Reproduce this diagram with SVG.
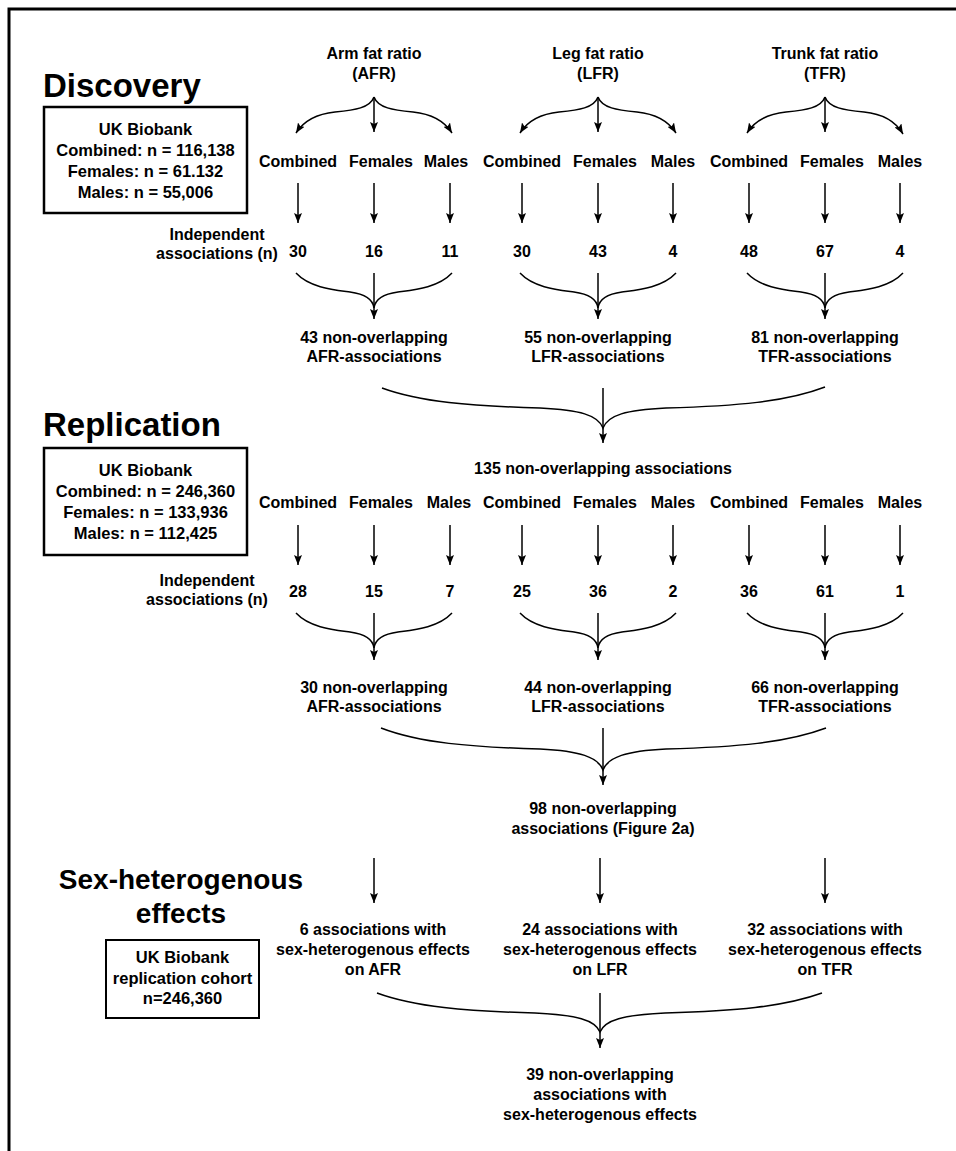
<svg xmlns="http://www.w3.org/2000/svg" width="956" height="1151" viewBox="0 0 956 1151">
<defs>
<marker id="ah" viewBox="0 0 10 8" refX="10" refY="4" markerWidth="10" markerHeight="8" markerUnits="userSpaceOnUse" orient="auto">
<path d="M0,0 L10,4 L0,8 L2,4 z" fill="#000"/>
</marker>
<style>
text{font-family:"Liberation Sans",Arial,sans-serif;font-weight:bold;fill:#000;text-anchor:middle}
.t{font-size:16px}
.b{font-size:16.5px}
.h{font-size:33px;text-anchor:start}
.h2{font-size:28px}
.box{fill:none;stroke:#000;stroke-width:2.5}
.c path{fill:none;stroke:#000;stroke-width:1.5}
.a{marker-end:url(#ah)}
</style>
</defs>
<rect width="956" height="1151" fill="#fff"/>
<path d="M9,1151 V9 H956" fill="none" stroke="#000" stroke-width="3"/>

<g id="discovery-heading"><text class="h" x="43" y="97">Discovery</text></g>
<g id="discovery-box">
<rect class="box" x="44" y="107" width="203" height="106"/>
<text class="b" x="145.5" y="135">UK Biobank</text>
<text class="b" x="145.5" y="156">Combined: n = 116,138</text>
<text class="b" x="145.5" y="177">Females: n = 61.132</text>
<text class="b" x="145.5" y="198">Males: n = 55,006</text>
</g>

<g id="titles">
<text class="t" x="374" y="59">Arm fat ratio</text><text class="t" x="374" y="79">(AFR)</text>
<text class="t" x="598" y="59">Leg fat ratio</text><text class="t" x="598" y="79">(LFR)</text>
<text class="t" x="825" y="59">Trunk fat ratio</text><text class="t" x="825" y="79">(TFR)</text>
</g>

<g id="discovery-groups">
<text class="t" x="298" y="167">Combined</text><text class="t" x="381" y="167">Females</text><text class="t" x="446" y="167">Males</text>
<text class="t" x="522" y="167">Combined</text><text class="t" x="605" y="167">Females</text><text class="t" x="673" y="167">Males</text>
<text class="t" x="749" y="167">Combined</text><text class="t" x="832" y="167">Females</text><text class="t" x="900" y="167">Males</text>
</g>

<g id="discovery-indep">
<text class="t" x="217" y="240">Independent</text>
<text class="t" x="217" y="259">associations (n)</text>
</g>
<g id="discovery-numbers">
<text class="t" x="298" y="257">30</text><text class="t" x="374" y="257">16</text><text class="t" x="450" y="257">11</text>
<text class="t" x="522" y="257">30</text><text class="t" x="598" y="257">43</text><text class="t" x="673" y="257">4</text>
<text class="t" x="749" y="257">48</text><text class="t" x="825" y="257">67</text><text class="t" x="900" y="257">4</text>
</g>

<g id="discovery-results">
<text class="t" x="374" y="343">43 non-overlapping</text><text class="t" x="374" y="362">AFR-associations</text>
<text class="t" x="598" y="343">55 non-overlapping</text><text class="t" x="598" y="362">LFR-associations</text>
<text class="t" x="825" y="343">81 non-overlapping</text><text class="t" x="825" y="362">TFR-associations</text>
</g>

<g id="replication-heading"><text class="h" x="43" y="436">Replication</text></g>
<g id="replication-box">
<rect class="box" x="44" y="448" width="203" height="107"/>
<text class="b" x="145.5" y="476">UK Biobank</text>
<text class="b" x="145.5" y="497">Combined: n = 246,360</text>
<text class="b" x="145.5" y="518">Females: n = 133,936</text>
<text class="b" x="145.5" y="539">Males: n = 112,425</text>
</g>

<g id="replication-total"><text class="t" x="603" y="474">135 non-overlapping associations</text></g>

<g id="replication-groups">
<text class="t" x="298" y="508">Combined</text><text class="t" x="381" y="508">Females</text><text class="t" x="449" y="508">Males</text>
<text class="t" x="522" y="508">Combined</text><text class="t" x="605" y="508">Females</text><text class="t" x="673" y="508">Males</text>
<text class="t" x="749" y="508">Combined</text><text class="t" x="832" y="508">Females</text><text class="t" x="900" y="508">Males</text>
</g>

<g id="replication-indep">
<text class="t" x="207" y="586">Independent</text>
<text class="t" x="207" y="605">associations (n)</text>
</g>
<g id="replication-numbers">
<text class="t" x="298" y="597">28</text><text class="t" x="374" y="597">15</text><text class="t" x="450" y="597">7</text>
<text class="t" x="522" y="597">25</text><text class="t" x="598" y="597">36</text><text class="t" x="673" y="597">2</text>
<text class="t" x="749" y="597">36</text><text class="t" x="825" y="597">61</text><text class="t" x="900" y="597">1</text>
</g>

<g id="replication-results">
<text class="t" x="374" y="693">30 non-overlapping</text><text class="t" x="374" y="712">AFR-associations</text>
<text class="t" x="598" y="693">44 non-overlapping</text><text class="t" x="598" y="712">LFR-associations</text>
<text class="t" x="825" y="693">66 non-overlapping</text><text class="t" x="825" y="712">TFR-associations</text>
</g>

<g id="replication-total2">
<text class="t" x="603" y="814">98 non-overlapping</text>
<text class="t" x="603" y="834">associations (Figure 2a)</text>
</g>

<g id="sexhet-heading">
<text class="h2" x="181" y="889">Sex-heterogenous</text>
<text class="h2" x="181" y="923">effects</text>
</g>
<g id="sexhet-box">
<rect class="box" x="106" y="940" width="153" height="78" style="stroke-width:2"/>
<text class="b" x="182.5" y="963">UK Biobank</text>
<text class="b" x="182.5" y="984">replication cohort</text>
<text class="b" x="182.5" y="1004">n=246,360</text>
</g>

<g id="sexhet-results">
<text class="t" x="373" y="935">6 associations with</text><text class="t" x="373" y="955">sex-heterogenous effects</text><text class="t" x="373" y="975">on AFR</text>
<text class="t" x="600" y="935">24 associations with</text><text class="t" x="600" y="955">sex-heterogenous effects</text><text class="t" x="600" y="975">on LFR</text>
<text class="t" x="825" y="935">32 associations with</text><text class="t" x="825" y="955">sex-heterogenous effects</text><text class="t" x="825" y="975">on TFR</text>
</g>

<g id="sexhet-total">
<text class="t" x="600" y="1080">39 non-overlapping</text>
<text class="t" x="600" y="1100">associations with</text>
<text class="t" x="600" y="1120">sex-heterogenous effects</text>
</g>

<g id="connectors" class="c">
<path class="a" d="M374,97 C370,108 355,110 335,112 C315,114 303,122 296,133"/>
<path class="a" d="M374,97 V132"/>
<path class="a" d="M374,97 C378,108 393,110 413,112 C433,114 445,122 452,133"/>
<path class="a" d="M598,97 C594,108 579,110 559,112 C539,114 527,122 520,133"/>
<path class="a" d="M598,97 V132"/>
<path class="a" d="M598,97 C602,108 617,110 637,112 C657,114 669,122 676,133"/>
<path class="a" d="M825,97 C821,108 806,110 786,112 C766,114 754,122 747,133"/>
<path class="a" d="M825,97 V132"/>
<path class="a" d="M825,97 C829,108 844,110 864,112 C884,114 896,122 903,134"/>
<path class="a" d="M298,183 V223"/><path class="a" d="M374,183 V223"/><path class="a" d="M450,183 V223"/>
<path class="a" d="M522,183 V223"/><path class="a" d="M598,183 V223"/><path class="a" d="M673,183 V223"/>
<path class="a" d="M749,183 V223"/><path class="a" d="M825,183 V223"/><path class="a" d="M900,183 V223"/>
<path d="M296,273 C310,288 335,290 350,292 C365,294 373,300 374,308 C375,300 383,294 398,292 C413,290 438,288 452,273"/>
<path class="a" d="M374,273 V319"/>
<path d="M520,273 C534,288 559,290 574,292 C589,294 597,300 598,308 C599,300 607,294 622,292 C637,290 662,288 676,273"/>
<path class="a" d="M598,273 V319"/>
<path d="M747,273 C761,288 786,290 801,292 C816,294 824,300 825,308 C826,300 834,294 849,292 C864,290 889,288 903,273"/>
<path class="a" d="M825,273 V319"/>
<path d="M382,388 C420,402 470,406 540,408 C580,410 598,415 603,428 C608,415 626,410 666,408 C736,406 786,402 825,387"/>
<path class="a" d="M603,388 V443"/>
<path class="a" d="M298,525 V565"/><path class="a" d="M374,525 V565"/><path class="a" d="M450,525 V565"/>
<path class="a" d="M522,525 V565"/><path class="a" d="M598,525 V565"/><path class="a" d="M673,525 V565"/>
<path class="a" d="M749,525 V565"/><path class="a" d="M825,525 V565"/><path class="a" d="M900,525 V565"/>
<path d="M296,613 C310,628 335,630 350,632 C365,634 373,640 374,648 C375,640 383,634 398,632 C413,630 438,628 452,613"/>
<path class="a" d="M374,613 V660"/>
<path d="M520,613 C534,628 559,630 574,632 C589,634 597,640 598,648 C599,640 607,634 622,632 C637,630 662,628 676,613"/>
<path class="a" d="M598,613 V660"/>
<path d="M747,613 C761,628 786,630 801,632 C816,634 824,640 825,648 C826,640 834,634 849,632 C864,630 889,628 903,613"/>
<path class="a" d="M825,613 V660"/>
<path d="M381,728 C420,743 470,747 540,749 C580,751 598,757 603,770 C608,757 626,751 666,749 C736,747 786,743 826,728"/>
<path class="a" d="M603,728 V785"/>
<path class="a" d="M374,858 V903"/><path class="a" d="M600,858 V903"/><path class="a" d="M825,858 V903"/>
<path d="M377,993 C415,1007 465,1011 535,1013 C577,1015 595,1020 600,1032 C605,1020 623,1015 665,1013 C735,1011 783,1007 822,993"/>
<path class="a" d="M600,993 V1048"/>
</g>
</svg>
